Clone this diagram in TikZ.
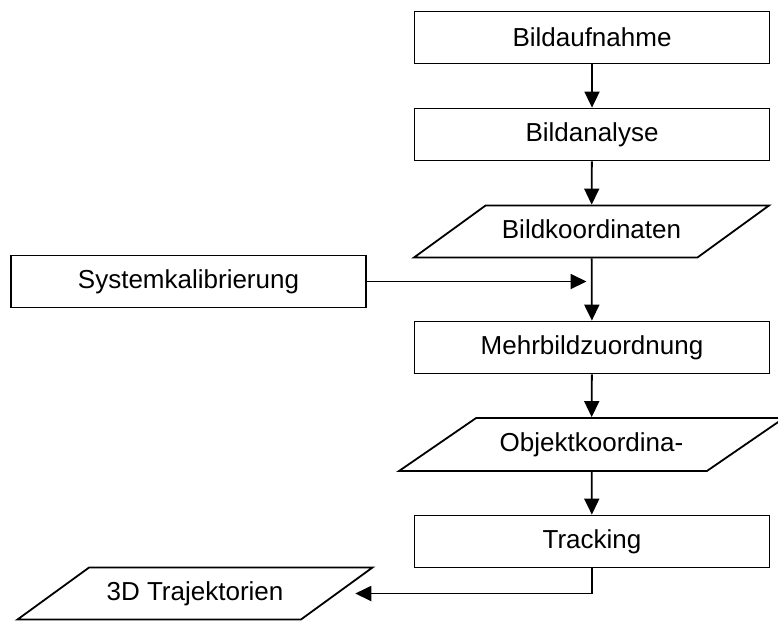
\documentclass[tikz,border=0pt]{standalone}
\usepackage{fontspec}
\setmainfont{Liberation Sans}
\usetikzlibrary{shapes.geometric,arrows.meta}

\tikzset{
  prozess/.style={draw, line width=1.8pt, minimum width=355pt, minimum height=52pt, inner sep=0pt},
  daten/.style={draw, line width=1.8pt, trapezium, trapezium stretches body,
    trapezium left angle=36, trapezium right angle=144,
    text height=19pt, text depth=5pt, inner xsep=0pt, inner ysep=14pt,
    minimum width=355pt},
  pfeil/.style={->, line width=1.8pt}
}

\begin{document}
\begin{tikzpicture}[x=1pt, y=-1pt, >={Triangle[length=16pt,width=15pt]}, font=\fontsize{26}{30}\selectfont]
  \useasboundingbox (0,0) rectangle (778,622);

  \node[prozess] (aufnahme) at (592, 37.5) {Bildaufnahme};
  \node[prozess] (analyse) at (592, 134.5) {Bildanalyse};
  \node[daten] (bildkoord) at (591.5, 231.5) {Bildkoordinaten};
  \node[prozess] (kalib) at (188.5, 281.5) {Systemkalibrierung};
  \node[prozess] (zuordnung) at (592, 347.5) {Mehrbildzuordnung};
  \node[daten, minimum width=385pt, inner ysep=14.5pt,
    trapezium left angle=34.5, trapezium right angle=145.5] (objkoord) at (591.5, 444.5) {Objektkoordina-};
  \node[prozess] (tracking) at (592, 541.5) {Tracking};
  \node[daten] (traj) at (195, 593.5) {3D Trajektorien};

  \draw[pfeil] (aufnahme) -- (analyse);
  \draw[pfeil] (analyse) -- (bildkoord);
  \draw[pfeil] (bildkoord) -- (zuordnung);
  \draw[pfeil, shorten >=5pt] (kalib) -- (kalib -| bildkoord.south);
  \draw[pfeil] (zuordnung) -- (objkoord);
  \draw[pfeil] (objkoord) -- (tracking);
  \draw[pfeil] (tracking.south) |- ([xshift=17pt]traj.east);
\end{tikzpicture}
\end{document}
